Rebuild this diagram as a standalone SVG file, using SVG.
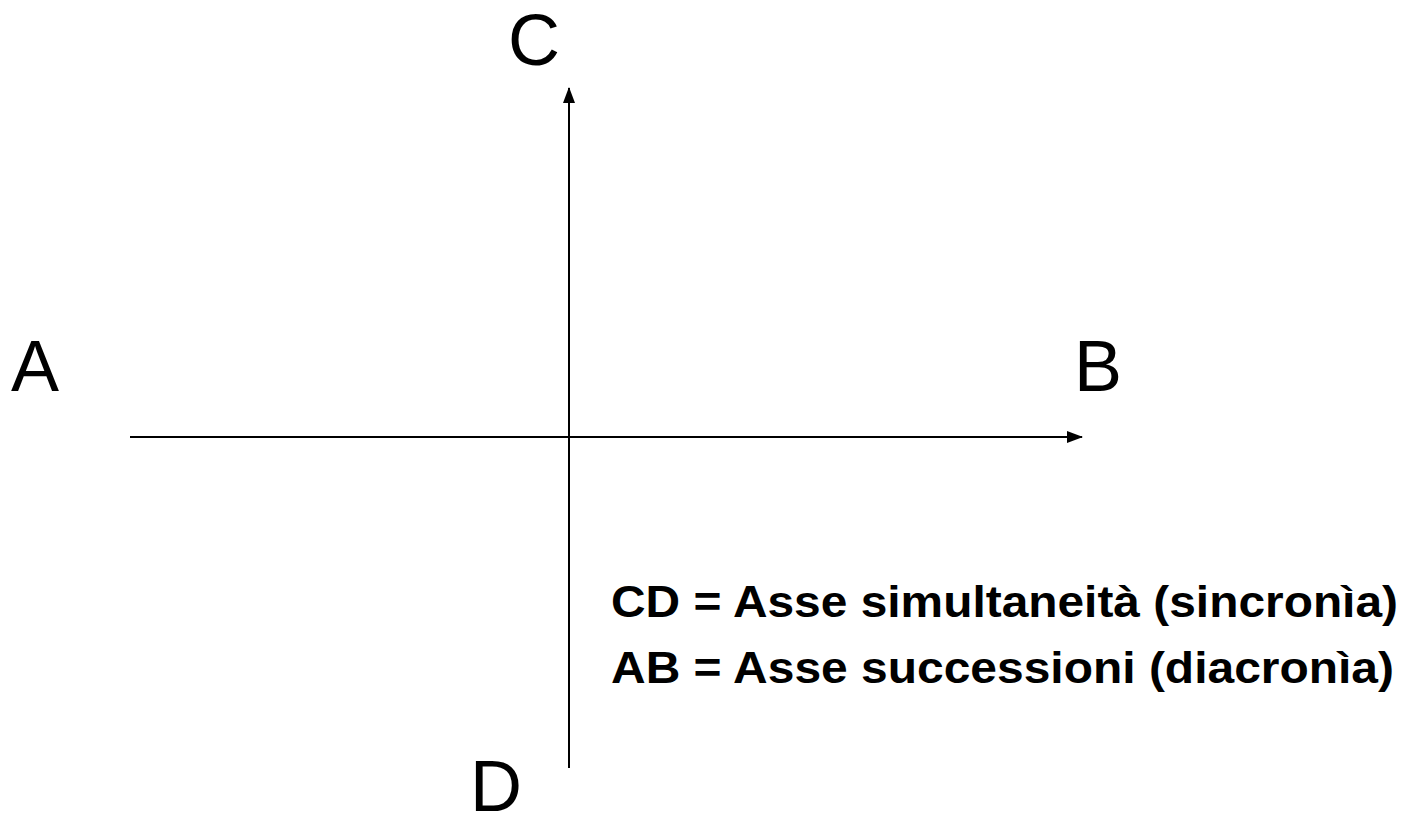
<svg xmlns="http://www.w3.org/2000/svg" width="1406" height="819" viewBox="0 0 1406 819">
<style>
.lbl{font-family:"Liberation Sans",Arial,sans-serif;font-size:72px;fill:#000}
.note{font-family:"Liberation Sans",Arial,sans-serif;font-size:45px;font-weight:bold;fill:#000}
.ax{stroke:#000;stroke-width:2;fill:none}
</style>
<defs>
<marker id="arr" markerWidth="16" markerHeight="12" refX="15" refY="6" orient="auto" markerUnits="userSpaceOnUse" viewBox="0 0 16 12">
<path d="M0,0 L16,6 L0,12 Z" fill="#000"/>
</marker>
</defs>
<rect width="1406" height="819" fill="#fff"/>
<g id="connectors">
<line class="ax" x1="130" y1="437" x2="1082" y2="437" marker-end="url(#arr)"/>
<line class="ax" x1="569" y1="768" x2="569" y2="88" marker-end="url(#arr)"/>
</g>
<g id="node-A"><text class="lbl" x="11" y="391">A</text></g>
<g id="node-B"><text class="lbl" x="1074" y="391">B</text></g>
<g id="node-C"><text class="lbl" x="508" y="65">C</text></g>
<g id="node-D"><text class="lbl" x="470" y="811">D</text></g>
<g id="legend">
<text class="note" x="611" y="617" textLength="787" lengthAdjust="spacingAndGlyphs">CD = Asse simultaneità (sincronìa)</text>
<text class="note" x="611" y="683" textLength="783" lengthAdjust="spacingAndGlyphs">AB = Asse successioni (diacronìa)</text>
</g>
</svg>
